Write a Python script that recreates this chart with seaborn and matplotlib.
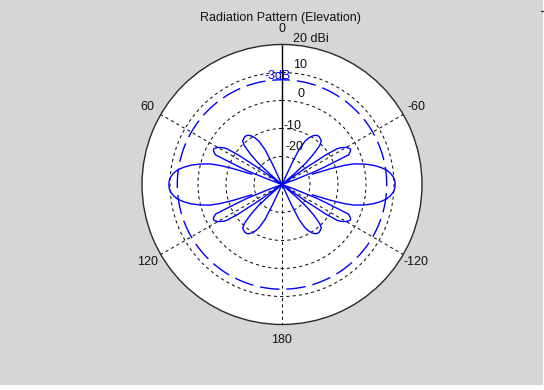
import numpy as np
import pandas as pd
import matplotlib
matplotlib.use("Agg")
import matplotlib.pyplot as plt
import seaborn as sns
from matplotlib.patches import Rectangle
from matplotlib.lines import Line2D

# Elevation cut, one quadrant (degrees from zenith) and gain in dBi.
# NaN marks the deep null between the first sidelobe and the main beam.
elev_deg = [0, 10, 20, 24, 25, 26, 28, 30, 32, 34, 36, 38, 40, 42, 44, 46, 48, 49, 50,
            52, 54, 55, 56, 57, 58, 60, 62, 63, 64, 66, 66.5, 67.5, 68.5, 69.5, 70,
            70.6, 71.2, 72, 73, 74, 76, 78, 80, 82, 84, 86, 88, 90]
gain_dbi = [-30, -30, -30, -30, -22, -16, -12.5, -10.8, -9.6, -8.8, -8.4, -8.4, -8.7, -9.0,
            -10.6, -14.2, -18.5, -24, -30,
            -30, -30, -20, -11, -6.5, -5.2, -3.5, -2.6, -2.5, -2.8, -4.0, -7.8, -13, -17, -25, -30,
            np.nan, -18.6, -11.5, -6.5, -3.3, 0.2, 3.2, 5.6, 7.6, 8.9, 9.8, 10.3, 10.4]

ring_values = [-20, -10, 0, 10, 20]
ring_labels = ["-20", "-10", "0", "10", "20 dBi"]
angle_ticks = [0, 60, 120, 180, 240, 300]
angle_labels = ["0", "60", "120", "180", "-120", "-60"]
title_text = "Radiation Pattern (Elevation)"
r_min = -30

# The cut is symmetric, so reflect the quadrant into a full 360 degree trace
q = np.array(elev_deg, dtype=float)
g = np.array(gain_dbi, dtype=float)
theta = np.concatenate([q, 180 - q[::-1], 180 + q, 360 - q[::-1]])
gain = np.concatenate([g, g[::-1], g, g[::-1]])
segment = np.cumsum(np.isnan(gain))
df = pd.DataFrame({"theta": np.deg2rad(theta),
                   "r": np.clip(gain, r_min, None),
                   "segment": segment}).dropna()
peak = float(np.nanmax(gain))

sns.set_theme(style="white")
plt.rcParams["font.family"] = ["Liberation Sans", "DejaVu Sans"]
FS = 9

W, H = 544, 390
fig = plt.figure(figsize=(W / 100, H / 100), dpi=100, facecolor="white")
fig.add_artist(Rectangle((0, 5 / H), 543 / W, 385 / H, transform=fig.transFigure,
                         facecolor="#d6d6d6", edgecolor="none", zorder=-5))
fig.add_artist(Line2D([541 / W, 543 / W], [1 - 11 / H, 1 - 11 / H],
                      transform=fig.transFigure, color="#333333", lw=1))

cx, cy, rad = 282, 184.5, 140
ax = fig.add_axes([(cx - rad) / W, (H - cy - rad) / H, 2 * rad / W, 2 * rad / H],
                  projection="polar")
ax.set_theta_zero_location("N")
ax.set_theta_direction(1)
ax.set_facecolor("white")

ax.set_thetagrids(angle_ticks, labels=[""] * len(angle_ticks))
ax.set_rgrids(ring_values[:-1], labels=[""] * (len(ring_values) - 1))
ax.grid(True, color="#111111", linewidth=0.75, linestyle=(0, (3, 3)))
ax.spines["polar"].set_color("#2a2a2a")
ax.spines["polar"].set_linewidth(1.0)

# Boresight line
ax.plot([0, 0], [r_min, 20], color="black", lw=1, solid_capstyle="butt")

# Gain pattern, drawn segment by segment so the nulls stay open
sns.lineplot(data=df, x="theta", y="r", units="segment", sort=False, estimator=None,
             color="#0000ff", lw=1, ax=ax, legend=False)

# -3 dB reference circle
circ = np.linspace(0, 2 * np.pi, 721)
ax.plot(circ, np.full_like(circ, peak - 3), color="#0000ff", lw=1,
        linestyle=(7, (14, 5)))
ax.annotate("-3dB", xy=(0, peak - 3), xytext=(-4, 4), textcoords="offset pixels",
            ha="center", va="center", fontsize=FS, color="#0000ff")

ax.set_xlabel("")
ax.set_ylabel("")
ax.set_rlim(r_min, 20)

# Angle labels outside the rim
for a, lab in zip(angle_ticks, angle_labels):
    ax.text(np.deg2rad(a), 25.4, lab, ha="center", va="center", fontsize=FS,
            color="#111111", clip_on=False)

# Ring labels beside the boresight line
ring_offsets = [(12, 9.5), (10.5, 2.5), (19.5, 6.5), (18, 7.5), (28.5, 5.5)]
for v, lab, (dx, dy) in zip(ring_values, ring_labels, ring_offsets):
    ax.annotate(lab, xy=(0, v), xytext=(dx, dy), textcoords="offset pixels",
                ha="center", va="center", fontsize=FS, color="#111111")

fig.text(280.5 / W, 1 - 17.5 / H, title_text, ha="center", va="center",
         fontsize=FS, color="#111111")

fig.savefig("out.png", dpi=100, facecolor=fig.get_facecolor())
